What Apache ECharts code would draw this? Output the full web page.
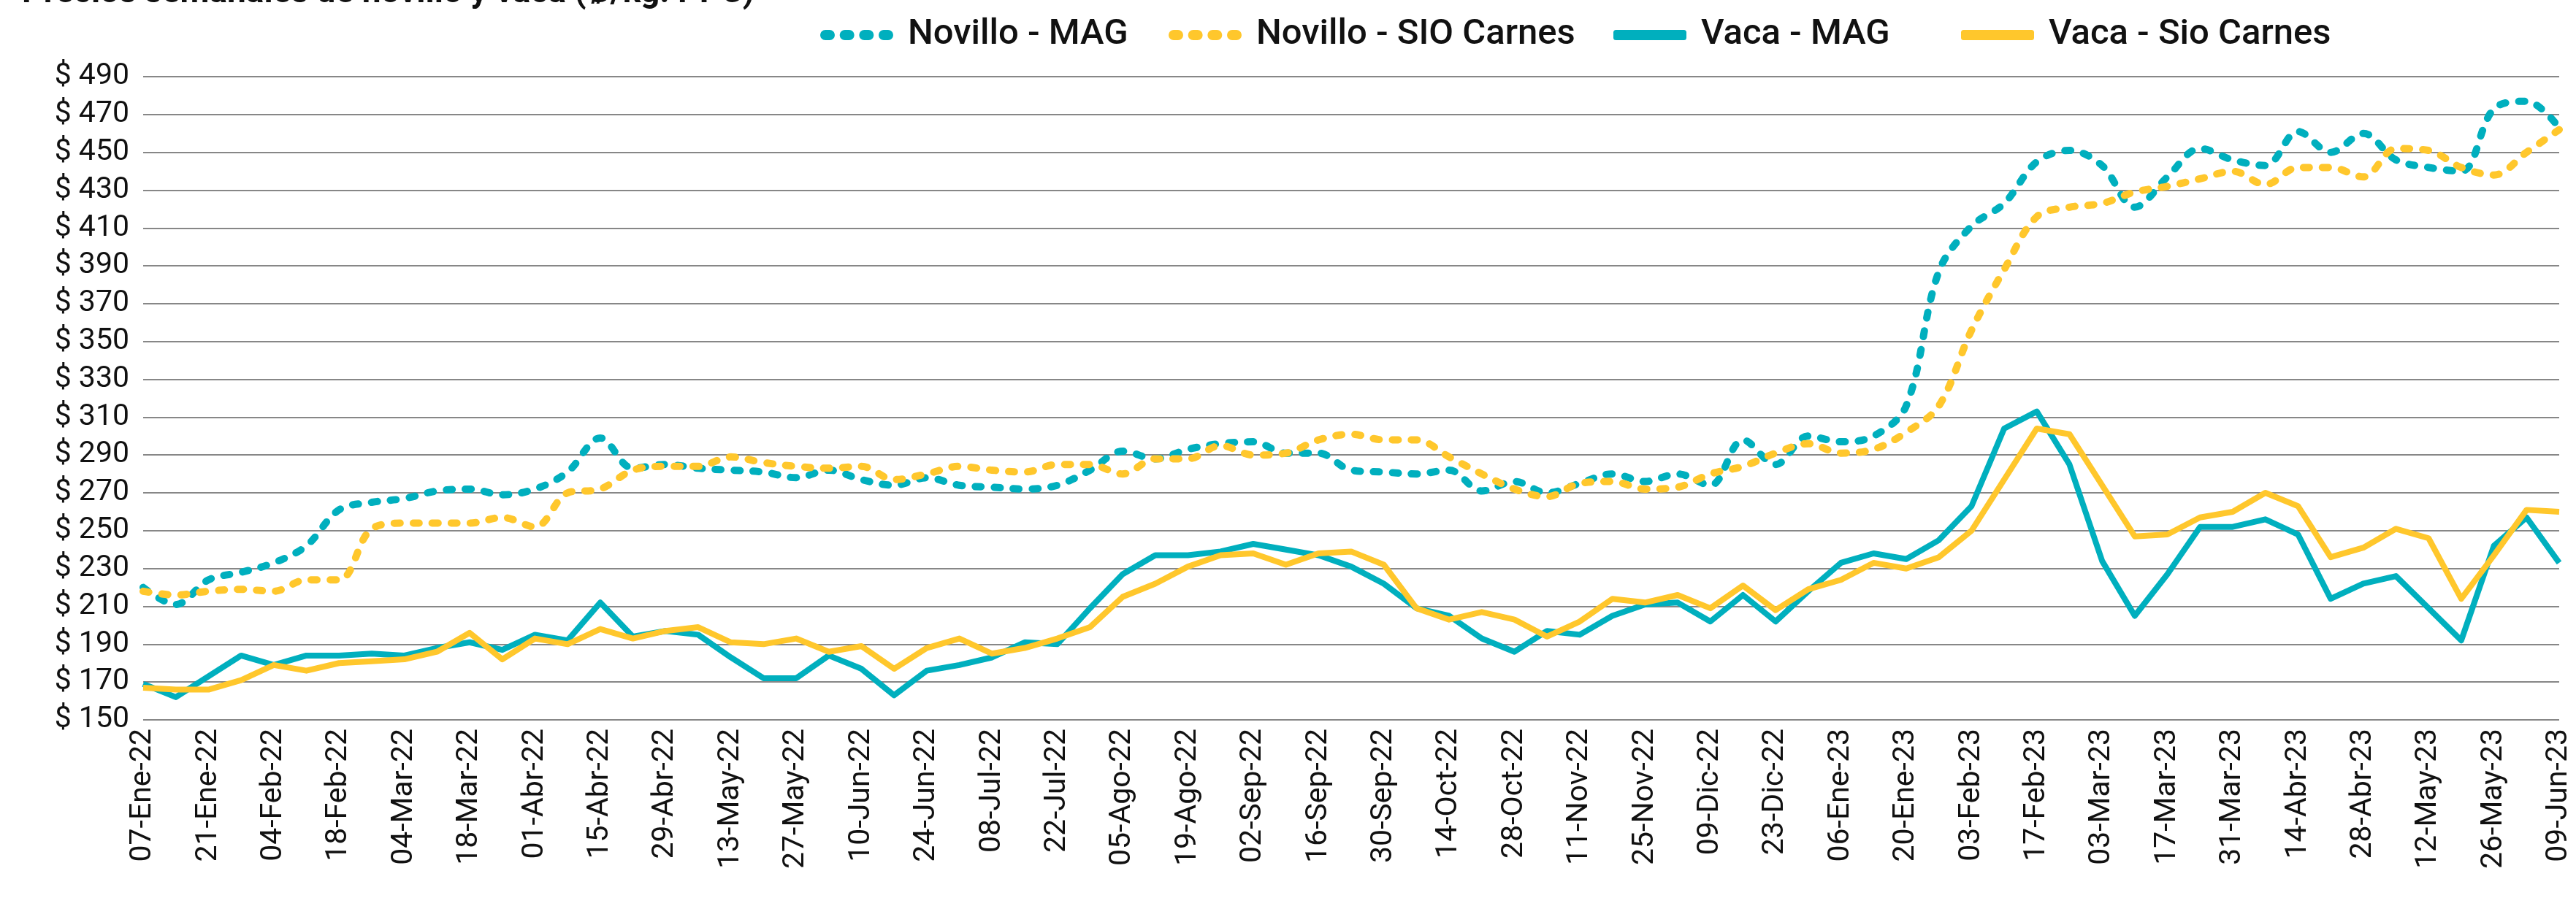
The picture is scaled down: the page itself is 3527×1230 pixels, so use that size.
<!DOCTYPE html>
<html>
<head>
<meta charset="utf-8">
<script src="https://cdn.jsdelivr.net/npm/echarts@6/dist/echarts.min.js"></script>
<style>
html,body{margin:0;padding:0;background:#fff;}
#chart{width:3527px;height:1230px;}
</style>
</head>
<body>
<div id="chart"></div>
<script>
const titleText = 'Precios semanales de novillo y vaca (₡/kg. PPC)';
const seriesNames = ['Novillo - MAG', 'Novillo - SIO Carnes', 'Vaca - MAG', 'Vaca - Sio Carnes'];
const categories = [
'07-Ene-22','14-Ene-22','21-Ene-22','28-Ene-22','04-Feb-22','11-Feb-22','18-Feb-22','25-Feb-22',
'04-Mar-22','11-Mar-22','18-Mar-22','25-Mar-22','01-Abr-22','08-Abr-22','15-Abr-22','22-Abr-22',
'29-Abr-22','06-May-22','13-May-22','20-May-22','27-May-22','03-Jun-22','10-Jun-22','17-Jun-22',
'24-Jun-22','01-Jul-22','08-Jul-22','15-Jul-22','22-Jul-22','29-Jul-22','05-Ago-22','12-Ago-22',
'19-Ago-22','26-Ago-22','02-Sep-22','09-Sep-22','16-Sep-22','23-Sep-22','30-Sep-22','07-Oct-22',
'14-Oct-22','21-Oct-22','28-Oct-22','04-Nov-22','11-Nov-22','18-Nov-22','25-Nov-22','02-Dic-22',
'09-Dic-22','16-Dic-22','23-Dic-22','30-Dic-22','06-Ene-23','13-Ene-23','20-Ene-23','27-Ene-23',
'03-Feb-23','10-Feb-23','17-Feb-23','24-Feb-23','03-Mar-23','10-Mar-23','17-Mar-23','24-Mar-23',
'31-Mar-23','07-Abr-23','14-Abr-23','21-Abr-23','28-Abr-23','05-May-23','12-May-23','19-May-23',
'26-May-23','02-Jun-23','09-Jun-23'];
const novilloMAG = [
220,211,224,228,233,242,261,265,267,271,272,269,272,281,299,283,285,283,282,281,278,282,277,274,278,
274,273,272,274,282,292,288,293,296,297,291,291,282,281,280,282,271,276,270,275,280,276,280,274,298,
285,300,297,300,316,387,411,423,445,451,443,421,437,452,446,443,461,450,460,446,442,440,473,477,463];
const novilloSIO = [
218,216,218,219,218,224,224,251,254,254,254,257,252,270,272,282,284,284,289,286,284,283,284,277,280,
284,282,281,285,285,280,288,288,295,290,291,298,301,298,298,289,280,272,268,275,276,272,273,280,284,
291,296,291,293,302,316,356,388,416,421,423,429,432,436,440,433,442,442,437,452,451,442,438,450,462];
const vacaMAG = [
169,162,173,184,179,184,184,185,184,188,191,187,195,192,212,194,197,195,183,172,172,184,177,163,176,
179,183,191,190,209,227,237,237,239,243,240,237,231,222,209,205,193,186,197,195,205,211,212,202,216,
202,218,233,238,235,245,263,304,313,285,234,205,227,252,252,256,248,214,222,226,209,192,242,257,233];
const vacaSIO = [
167,166,166,171,179,176,180,181,182,186,196,182,193,190,198,193,197,199,191,190,193,186,189,177,188,
193,185,188,193,199,215,222,231,237,238,232,238,239,232,209,203,207,203,194,202,214,212,216,209,221,
208,219,224,233,230,236,250,277,304,301,274,247,248,257,260,270,263,236,241,251,246,214,237,261,260];

const TEAL = '#00AFBE';
const YELLOW = '#FFC72C';
const FONT = 'Roboto, "Liberation Sans", sans-serif';
function pill(x) {
  return 'M' + (x + 7) + ',0h6a7,7 0 0,1 0,14h-6a7,7 0 0,1 0,-14z';
}
const dotIcon = 'path://' + pill(0) + ' ' + pill(26.67) + ' ' + pill(53.33) + ' ' + pill(80);

function legendFor(name, left, icon, color) {
  return {
    data: [{name: name, icon: icon, itemStyle: {color: color, borderWidth: 0}}],
    left: left, top: 20, itemWidth: 100, itemHeight: 14, padding: 0,
    selectedMode: false,
    textStyle: {fontFamily: FONT, fontSize: 49, fontWeight: 500, color: '#111', padding: [0,0,0,15], lineHeight: 56}
  };
}

const chart = echarts.init(document.getElementById('chart'), null, {renderer: 'canvas'});
chart.setOption({
  animation: false,
  backgroundColor: '#ffffff',
  title: {text: titleText, left: 30, top: -32, padding: 0,
    textStyle: {fontFamily: FONT, fontSize: 46, fontWeight: 'bold', color: '#111'}},
  legend: [
    legendFor(seriesNames[0], 1123, dotIcon, TEAL),
    legendFor(seriesNames[1], 1600, dotIcon, YELLOW),
    legendFor(seriesNames[2], 2209, 'roundRect', TEAL),
    legendFor(seriesNames[3], 2685, 'roundRect', YELLOW)
  ],
  grid: {left: 196, right: 23, top: 105, bottom: 244, containLabel: false},
  xAxis: {
    type: 'category', data: categories, boundaryGap: false,
    axisLine: {show: false}, axisTick: {show: false},
    axisLabel: {interval: 1, rotate: 90, margin: 12, color: '#111', fontFamily: FONT, fontSize: 41}
  },
  yAxis: {
    type: 'value', min: 150, max: 490, interval: 20,
    axisLine: {show: false}, axisTick: {show: false},
    axisLabel: {formatter: v => '$ ' + v, margin: 19, color: '#111', fontFamily: FONT, fontSize: 41},
    splitLine: {lineStyle: {color: '#878787', width: 2}}
  },
  series: [
    {name: seriesNames[0], type: 'line', data: novilloMAG, symbol: 'none', smooth: 0.35,
     itemStyle: {color: TEAL},
     lineStyle: {color: TEAL, width: 10, type: [8, 18], cap: 'round', join: 'round'}},
    {name: seriesNames[1], type: 'line', data: novilloSIO, symbol: 'none', smooth: 0.35,
     itemStyle: {color: YELLOW},
     lineStyle: {color: YELLOW, width: 10, type: [8, 18], cap: 'round', join: 'round'}},
    {name: seriesNames[2], type: 'line', data: vacaMAG, symbol: 'none',
     itemStyle: {color: TEAL},
     lineStyle: {color: TEAL, width: 8, join: 'round'}},
    {name: seriesNames[3], type: 'line', data: vacaSIO, symbol: 'none',
     itemStyle: {color: YELLOW},
     lineStyle: {color: YELLOW, width: 8, join: 'round'}}
  ]
});
</script>
</body>
</html>
